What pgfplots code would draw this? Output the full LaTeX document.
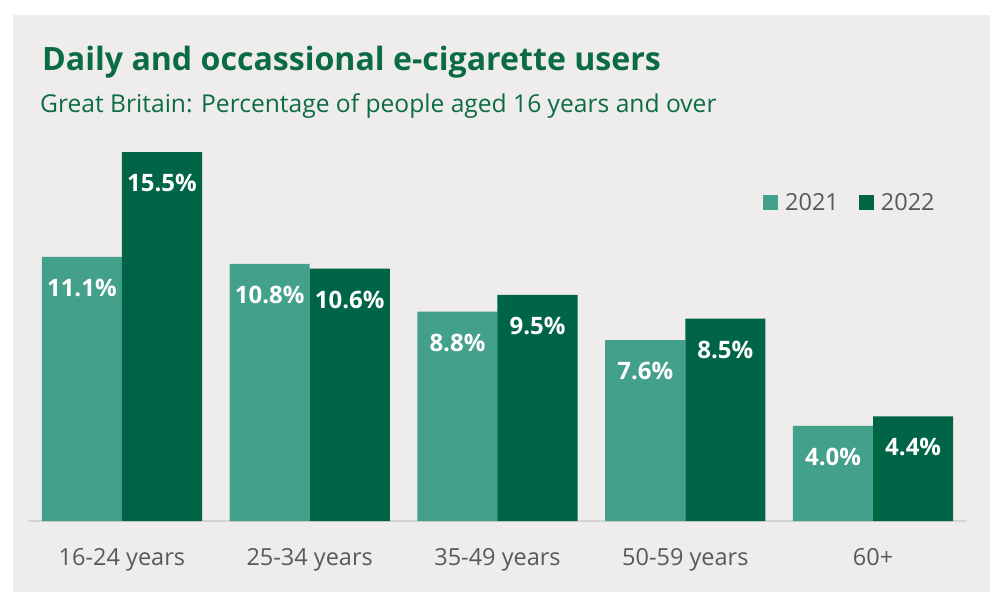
\documentclass[border=0pt]{standalone}
\usepackage{fontspec}
\setmainfont{Open Sans}
\usepackage{pgfplots}
\pgfplotsset{compat=1.18}
\definecolor{bg}{HTML}{EFEDEB}
\definecolor{cA}{HTML}{43A08A}
\definecolor{cB}{HTML}{006446}
\definecolor{ttl}{HTML}{0B6B47}
\definecolor{txt}{HTML}{595959}
\definecolor{axl}{HTML}{D6D4D2}
\begin{document}
\begin{tikzpicture}[x=1pt,y=1pt]
\fill[white] (0,0) rectangle (992,592);
\fill[bg] (13,0) rectangle (990,577);
\node[anchor=base west, text=ttl, font=\fontsize{32.1}{34}\selectfont\bfseries, inner sep=0] at (42,521) {Daily and occassional e-cigarette users};
\node[anchor=base west, text=ttl, font=\fontsize{24.6}{26}\selectfont, inner sep=0] at (40,479) {Great Britain: Percentage of people aged 16 years and over};
\begin{axis}[
  at={(28pt,71pt)}, anchor=south west,
  scale only axis, width=939pt, height=380.8pt,
  xmin=-0.5, xmax=4.5, ymin=0, ymax=16,
  axis x line*=bottom, axis y line=none,
  axis line style={axl, line width=1.5pt, -},
  xtick={0,1,2,3,4}, xticklabels={16-24 years,25-34 years,35-49 years,50-59 years,60+},
  major tick length=0pt,
  xticklabel style={anchor=base, yshift=-44pt, text=txt, font=\fontsize{23.5}{25}\selectfont},
  ytick=\empty,
  ybar, bar width=0.4267,
  /pgf/number format/assume math mode=true,
  nodes near coords={\pgfmathprintnumber[fixed,fixed zerofill,precision=1]{\pgfplotspointmeta}\%},
  every node near coord/.append style={anchor=center, yshift=-31pt, text=white, font=\fontsize{24}{26}\selectfont\bfseries},
  legend columns=2,
  legend image code/.code={\fill[#1] (0pt,-7.5pt) rectangle (15pt,7.5pt);},
  legend style={draw=none, fill=none, at={(0.7827,0.836)}, anchor=west, inner sep=0pt,
    font=\fontsize{23.5}{25}\selectfont, text=txt,
    /tikz/every even column/.style={column sep=20pt},
    nodes={inner xsep=0pt, inner ysep=0pt}, cells={anchor=west}},
  legend cell align=left,
]
\addplot[fill=cA, draw=none, bar shift=-0.2133] coordinates {(0,11.1) (1,10.8) (2,8.8) (3,7.6) (4,4.0)};
\addlegendentry{\hspace{7pt}2021}
\addplot[fill=cB, draw=none, bar shift=0.2133] coordinates {(0,15.5) (1,10.6) (2,9.5) (3,8.5) (4,4.4)};
\addlegendentry{\hspace{7pt}2022}
\end{axis}
\end{tikzpicture}
\end{document}
